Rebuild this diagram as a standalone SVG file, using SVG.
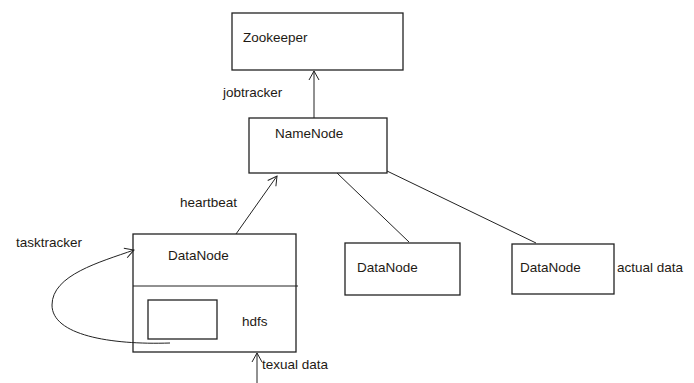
<svg xmlns="http://www.w3.org/2000/svg" width="694" height="383" viewBox="0 0 694 383">
<defs>
<style>
.box{fill:#fff;stroke:#222;stroke-width:1.3}
.ln{fill:none;stroke:#222;stroke-width:1}
.t{font-family:"Liberation Sans",Arial,sans-serif;font-size:13.5px;fill:#1e1a14}
</style>
<marker id="ah" markerWidth="12" markerHeight="12" refX="10" refY="6" orient="auto" markerUnits="userSpaceOnUse">
<path d="M1,1 L10,6 L1,11" fill="none" stroke="#222" stroke-width="1"/>
</marker>
</defs>
<rect width="694" height="383" fill="#fff"/>
<g id="zookeeper">
<rect class="box" x="232" y="13" width="171" height="57"/>
<text class="t" x="243" y="42">Zookeeper</text>
</g>
<g id="namenode">
<rect class="box" x="249" y="118" width="138" height="55"/>
<text class="t" x="275" y="138">NameNode</text>
</g>
<g id="datanode1">
<rect class="box" x="133" y="234" width="163" height="118"/>
<line class="ln" x1="133" y1="286" x2="298" y2="286" stroke-width="1.3"/>
<rect class="box" x="148" y="300" width="69" height="39"/>
<text class="t" x="168" y="260">DataNode</text>
<text class="t" x="242" y="326">hdfs</text>
</g>
<g id="datanode2">
<rect class="box" x="345" y="243" width="115" height="52"/>
<text class="t" x="357" y="272">DataNode</text>
</g>
<g id="datanode3">
<rect class="box" x="512" y="244" width="102" height="50"/>
<text class="t" x="520" y="272">DataNode</text>
</g>
<g id="connectors">
<line class="ln" x1="314" y1="118" x2="314" y2="71" marker-end="url(#ah)"/>
<line class="ln" x1="236" y1="234" x2="277" y2="176" marker-end="url(#ah)"/>
<line class="ln" x1="337" y1="173" x2="409" y2="242"/>
<line class="ln" x1="387" y1="171" x2="536" y2="243"/>
<path class="ln" d="M170,343 C110,345 52,335 52,305 C52,275 100,262 134,250" marker-end="url(#ah)"/>
<line class="ln" x1="257" y1="383" x2="257" y2="353" marker-end="url(#ah)"/>
</g>
<g id="labels">
<text class="t" x="223" y="97">jobtracker</text>
<text class="t" x="180" y="207">heartbeat</text>
<text class="t" x="16" y="247">tasktracker</text>
<text class="t" x="262" y="369">texual data</text>
<text class="t" x="617" y="272">actual data</text>
</g>
</svg>
